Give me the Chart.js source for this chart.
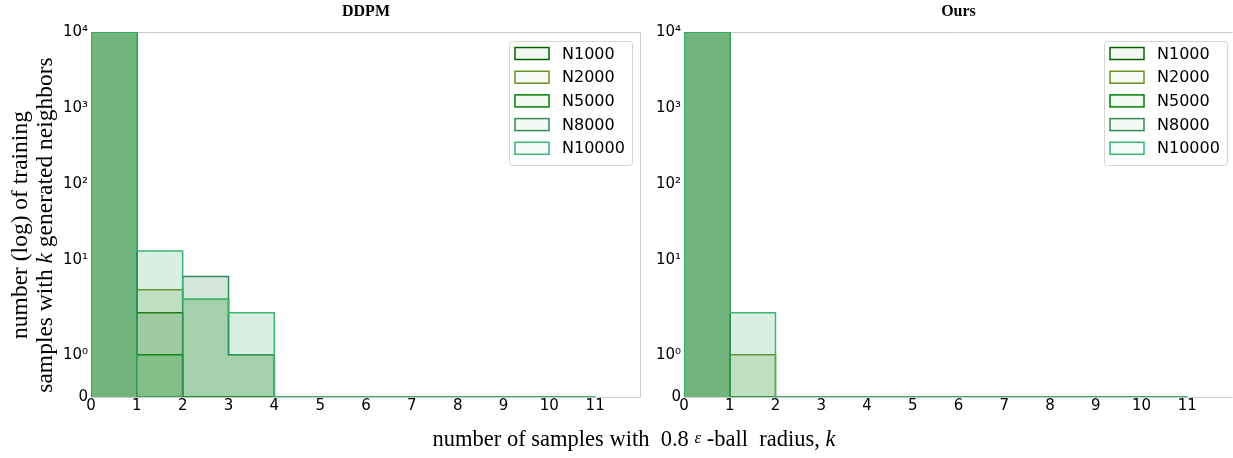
<!DOCTYPE html>
<html>
<head>
<meta charset="utf-8">
<script src="https://cdn.jsdelivr.net/npm/chart.js@4.4.0/dist/chart.umd.min.js"></script>
<style>
  body { margin: 0; background: #fff; width: 1233px; height: 458px; overflow: hidden; position: relative; }
  canvas { position: absolute; top: 0; }
  #ddpm { left: 0; }
  #ours { left: 640px; }
  #xlabel { position: absolute; top: 426px; left: 634px; transform: translateX(-50%);
            font: 22.5px "Liberation Serif", serif; white-space: pre; color: #000; }
  #xlabel .eps { font-size: 17px; font-style: italic; position: relative; top: -3px; }
</style>
</head>
<body>
<canvas id="ddpm" width="641" height="458"></canvas>
<canvas id="ours" width="593" height="458"></canvas>
<div id="xlabel">number of samples with  0.8 <span class="eps">ε</span> -ball  radius, <i>k</i></div>
<script>
// histogram bins: edges 0..11, one count per bin
const binEdges = [0, 1, 2, 3, 4, 5, 6, 7, 8, 9, 10, 11];
const seriesNames = ['N1000', 'N2000', 'N5000', 'N8000', 'N10000'];
const seriesColors = ['#006400', '#6b8e23', '#008000', '#2e8b57', '#3cb371'];

const ddpmN1000 = [9998, 2, 0, 0, 0, 0, 0, 0, 0, 0, 0];
const ddpmN2000 = [9992, 4, 3, 1, 0, 0, 0, 0, 0, 0, 0];
const ddpmN5000 = [9999, 1, 0, 0, 0, 0, 0, 0, 0, 0, 0];
const ddpmN8000 = [9993, 0, 6, 1, 0, 0, 0, 0, 0, 0, 0];
const ddpmN10000 = [9982, 13, 3, 2, 0, 0, 0, 0, 0, 0, 0];

const oursN1000 = [10000, 0, 0, 0, 0, 0, 0, 0, 0, 0, 0];
const oursN2000 = [9999, 1, 0, 0, 0, 0, 0, 0, 0, 0, 0];
const oursN5000 = [10000, 0, 0, 0, 0, 0, 0, 0, 0, 0, 0];
const oursN8000 = [10000, 0, 0, 0, 0, 0, 0, 0, 0, 0, 0];
const oursN10000 = [9998, 2, 0, 0, 0, 0, 0, 0, 0, 0, 0];

const xTickLabels = ['0', '1', '2', '3', '4', '5', '6', '7', '8', '9', '10', '11'];
const yTickValues = [0, 1, 10, 100, 1000, 10000];
const yTickLabels = ['0', '10⁰', '10¹', '10²', '10³', '10⁴'];

Chart.defaults.font.family = 'DejaVu Sans';
Chart.defaults.color = '#000';

// symlog y axis (linear below 2, log above), like matplotlib's symlog
const symThresh = 2;
const symScale = 1 / (1 - 1 / 10);

function symlog(v) {
  const a = Math.abs(v);
  const out = a <= symThresh ? a * symScale : symThresh * (symScale + Math.log10(a / symThresh));
  return v < 0 ? -out : out;
}

function symexp(u) {
  const a = Math.abs(u);
  const out = a <= symThresh * symScale ? a / symScale
    : symThresh * Math.pow(10, a / symThresh - symScale);
  return u < 0 ? -out : out;
}

class SymLogScale extends Chart.Scale {
  determineDataLimits() {
    this.min = this.options.min;
    this.max = this.options.max;
  }
  buildTicks() {
    return yTickValues.map(value => ({ value }));
  }
  configure() {
    super.configure();
    this._startValue = symlog(this.min);
    this._valueRange = symlog(this.max) - this._startValue;
  }
  getLabelForValue(value) {
    return String(value);
  }
  getPixelForValue(value) {
    return this.getPixelForDecimal((symlog(value) - this._startValue) / this._valueRange);
  }
  getValueForPixel(pixel) {
    return symexp(this._startValue + this.getDecimalForPixel(pixel) * this._valueRange);
  }
}
SymLogScale.id = 'symlog';
SymLogScale.defaults = {};
Chart.register(SymLogScale);

function withAlpha(hex, a) {
  const n = parseInt(hex.slice(1), 16);
  return `rgba(${n >> 16}, ${(n >> 8) & 255}, ${n & 255}, ${a})`;
}

// outline of a histogram as a step line: up at the first edge, down at the last
function stepPoints(counts) {
  const pts = [{ x: binEdges[0], y: 0 }];
  counts.forEach((c, i) => pts.push({ x: binEdges[i], y: c }));
  const last = binEdges[counts.length];
  pts.push({ x: last, y: counts[counts.length - 1] });
  pts.push({ x: last, y: 0 });
  return pts;
}

function makeDatasets(series) {
  return series.map((counts, i) => ({
    label: seriesNames[i],
    data: stepPoints(counts),
    borderColor: seriesColors[i],
    backgroundColor: withAlpha(seriesColors[i], 0.2),
    borderWidth: 1.5,
    fill: 'origin',
    stepped: 'before',
    pointRadius: 0,
    order: series.length - 1 - i
  }));
}

const panelDecor = {
  id: 'panelDecor',
  beforeDatasetsDraw(chart, args, opts) {
    const { ctx, chartArea: a } = chart;
    ctx.save();
    ctx.strokeStyle = '#cccccc';
    ctx.lineWidth = 1;
    ctx.beginPath();
    const l = Math.round(a.left) + 0.5, t = Math.round(a.top) + 0.5;
    const r = Math.round(a.right) - 0.5, b = Math.round(a.bottom) + 0.5;
    ctx.moveTo(l, b); ctx.lineTo(l, t); ctx.lineTo(r, t);
    if (opts.rightSpine) ctx.lineTo(r, b); else ctx.moveTo(r, b);
    ctx.lineTo(l, b);
    ctx.stroke();
    ctx.restore();
  },
  afterDatasetsDraw(chart, args, opts) {
    const { ctx, chartArea: a } = chart;
    // legend in the upper right corner
    const w = 123, h = 124;
    const x0 = opts.legendRight - w, y0 = a.top + 9;
    ctx.save();
    ctx.fillStyle = 'rgba(255,255,255,0.85)';
    ctx.strokeStyle = '#d5d5d5';
    ctx.lineWidth = 1;
    ctx.beginPath();
    ctx.roundRect(x0 + 0.5, y0 + 0.5, w, h, 3);
    ctx.fill();
    ctx.stroke();
    ctx.font = '16px "DejaVu Sans"';
    ctx.textBaseline = 'middle';
    ctx.textAlign = 'left';
    chart.data.datasets.forEach((ds, i) => {
      const cy = y0 + 12.5 + i * 23.7;
      ctx.fillStyle = withAlpha(seriesColors[i], 0.05);
      ctx.strokeStyle = ds.borderColor;
      ctx.lineWidth = 1.5;
      ctx.fillRect(x0 + 6, cy - 6, 34, 12);
      ctx.strokeRect(x0 + 6, cy - 6, 34, 12);
      ctx.fillStyle = '#000';
      ctx.fillText(ds.label, x0 + 53, cy + 1);
    });
    ctx.restore();
  },
  afterDraw(chart, args, opts) {
    const { ctx, chartArea: a } = chart;
    ctx.save();
    ctx.fillStyle = '#000';
    ctx.textAlign = 'center';
    ctx.textBaseline = 'middle';
    ctx.font = 'bold 16px "Liberation Serif"';
    ctx.fillText(opts.title, (a.left + a.right) / 2, 12);
    if (opts.yLabel) {
      const cy = 225;
      const size = '23.5px "Liberation Serif"';
      opts.yLabel.forEach((parts, li) => {
        ctx.save();
        ctx.translate(opts.yLabelX[li], cy);
        ctx.rotate(-Math.PI / 2);
        ctx.textAlign = 'left';
        ctx.textBaseline = 'middle';
        let total = 0;
        const widths = parts.map(([txt, it]) => {
          ctx.font = (it ? 'italic ' : '') + size;
          const wd = ctx.measureText(txt).width;
          total += wd;
          return wd;
        });
        let x = -total / 2;
        parts.forEach(([txt, it], k) => {
          ctx.font = (it ? 'italic ' : '') + size;
          ctx.fillText(txt, x, 0);
          x += widths[k];
        });
        ctx.restore();
      });
    }
    ctx.restore();
  }
};

function makeChart(id, series, yWidth, decor) {
  return new Chart(document.getElementById(id), {
    type: 'line',
    data: { datasets: makeDatasets(series) },
    plugins: [panelDecor],
    options: {
      responsive: false,
      animation: false,
      layout: { padding: { top: 32, left: 0, right: 0, bottom: 0 } },
      plugins: {
        legend: { display: false },
        tooltip: { enabled: false },
        panelDecor: decor
      },
      scales: {
        x: {
          type: 'linear', min: 0, max: 12,
          afterFit: s => { s.height = 61; },
          grid: { display: false, drawTicks: false },
          border: { display: false },
          ticks: {
            stepSize: 1, padding: 0, autoSkip: false, maxRotation: 0,
            font: { size: 15 },
            callback: (v, i) => xTickLabels[i] ?? ''
          }
        },
        y: {
          type: 'symlog', min: 0, max: 10000,
          afterFit: s => { s.width = yWidth; },
          grid: { display: false, drawTicks: false },
          border: { display: false },
          ticks: {
            padding: 3, font: { size: 15 },
            callback: (v, i) => yTickLabels[i]
          }
        }
      }
    }
  });
}

makeChart('ddpm', [ddpmN1000, ddpmN2000, ddpmN5000, ddpmN8000, ddpmN10000], 91, {
  title: 'DDPM',
  rightSpine: true,
  legendRight: 632,
  yLabel: [
    [['number (log) of training', false]],
    [['samples with ', false], ['k', true], [' generated neighbors', false]]
  ],
  yLabelX: [21, 46]
});

makeChart('ours', [oursN1000, oursN2000, oursN5000, oursN8000, oursN10000], 44, {
  title: 'Ours',
  rightSpine: false,
  legendRight: 587
});
</script>
</body>
</html>
